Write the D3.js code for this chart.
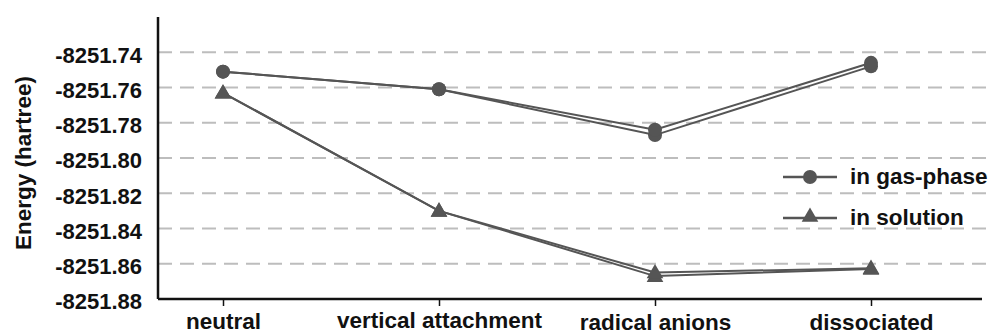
<!DOCTYPE html>
<html lang="en">
<head>
  <meta charset="UTF-8">
  <title>Energy levels</title>
  <script src="https://d3js.org/d3.v7.min.js"></script>
  <style>
    body { margin: 0; background: #fff; }
    text { font-family: "Liberation Sans", Arial, sans-serif; font-weight: bold; fill: #111; }
    .grid line { stroke: #bdbdbd; stroke-width: 2; stroke-dasharray: 14 8; }
    .series { fill: none; stroke: #555; stroke-width: 2; }
  </style>
</head>
<body>
<svg id="chart" width="992" height="335"></svg>
<script>
  // Data
  const categories = ["neutral", "vertical attachment", "radical anions", "dissociated"];
  const gasA = [-8251.751, -8251.761, -8251.784, -8251.746];
  const gasB = [-8251.751, -8251.761, -8251.787, -8251.748];
  const solA = [-8251.763, -8251.830, -8251.865, -8251.8625];
  const solB = [-8251.763, -8251.830, -8251.867, -8251.863];
  const yTicks = [-8251.74, -8251.76, -8251.78, -8251.80, -8251.82, -8251.84, -8251.86, -8251.88];
  const legendItems = [
    {name: "in gas-phase", shape: "circle"},
    {name: "in solution", shape: "triangle"}
  ];

  const svg = d3.select("#chart");
  const plotL = 158, plotR = 982, plotT = 17, plotB = 299;

  const x = d3.scalePoint().domain(categories).range([223, 871]);
  const y = d3.scaleLinear().domain([-8251.88, -8251.72]).range([plotB, plotT]);

  // dashed gridlines
  svg.append("g").attr("class", "grid")
    .selectAll("line")
    .data(yTicks.slice(0, -1))
    .join("line")
    .attr("x1", plotL).attr("x2", 990)
    .attr("y1", d => y(d)).attr("y2", d => y(d));

  // y axis (plain hyphen minus, as in the original)
  const yAxis = svg.append("g")
    .attr("transform", `translate(${plotL},0)`)
    .call(d3.axisLeft(y).tickValues(yTicks).tickFormat(d => d.toFixed(2)).tickSize(0).tickPadding(16));
  yAxis.select(".domain").attr("stroke", "#111").attr("stroke-width", 2.5)
    .attr("d", `M0,${plotT}V${plotB}`);
  yAxis.selectAll("text").style("font-size", "22px").attr("dy", "0.45em");

  // x axis
  const labelShift = [0, -1, 1, 1];
  const xAxis = svg.append("g")
    .attr("transform", `translate(0,${plotB})`)
    .call(d3.axisBottom(x).tickSize(7).tickPadding(0));
  xAxis.select(".domain").attr("stroke", "#111").attr("stroke-width", 2.5)
    .attr("d", `M${plotL},0H${plotR}`);
  xAxis.selectAll(".tick line").attr("stroke", "#111").attr("stroke-width", 1.5);
  xAxis.selectAll("text").style("font-size", "22.5px")
    .attr("dy", null).attr("y", (d, i) => 30 + labelShift[i]);

  // y axis title
  svg.append("text")
    .attr("transform", "translate(31,163) rotate(-90)")
    .attr("text-anchor", "middle")
    .style("font-size", "22.5px")
    .text("Energy (hartree)");

  const line = d3.line().x((d, i) => x(categories[i])).y(d => y(d));
  const triangle = d3.symbol().type(d3.symbolTriangle).size(120);

  function drawSeries(values, shape) {
    svg.append("path").attr("class", "series").attr("d", line(values));
    const g = svg.append("g");
    values.forEach((v, i) => {
      if (shape === "circle") {
        g.append("circle").attr("cx", x(categories[i])).attr("cy", y(v)).attr("r", 7).attr("fill", "#555");
      } else {
        g.append("path").attr("d", triangle).attr("fill", "#555")
          .attr("transform", `translate(${x(categories[i])},${y(v) + 1})`);
      }
    });
  }

  drawSeries(gasB, "circle");
  drawSeries(gasA, "circle");
  drawSeries(solB, "triangle");
  drawSeries(solA, "triangle");

  // legend
  const legend = svg.append("g");
  legendItems.forEach((item, i) => {
    const ly = 177 + i * 41;
    legend.append("line").attr("x1", 783).attr("x2", 837).attr("y1", ly).attr("y2", ly)
      .attr("stroke", "#555").attr("stroke-width", 2.5);
    if (item.shape === "circle") {
      legend.append("circle").attr("cx", 810).attr("cy", ly).attr("r", 7).attr("fill", "#555");
    } else {
      legend.append("path").attr("d", triangle).attr("fill", "#555")
        .attr("transform", `translate(810,${ly - 1})`);
    }
    legend.append("text").attr("x", 850).attr("y", ly + 7).style("font-size", "22.5px").text(item.name);
  });
</script>
</body>
</html>
